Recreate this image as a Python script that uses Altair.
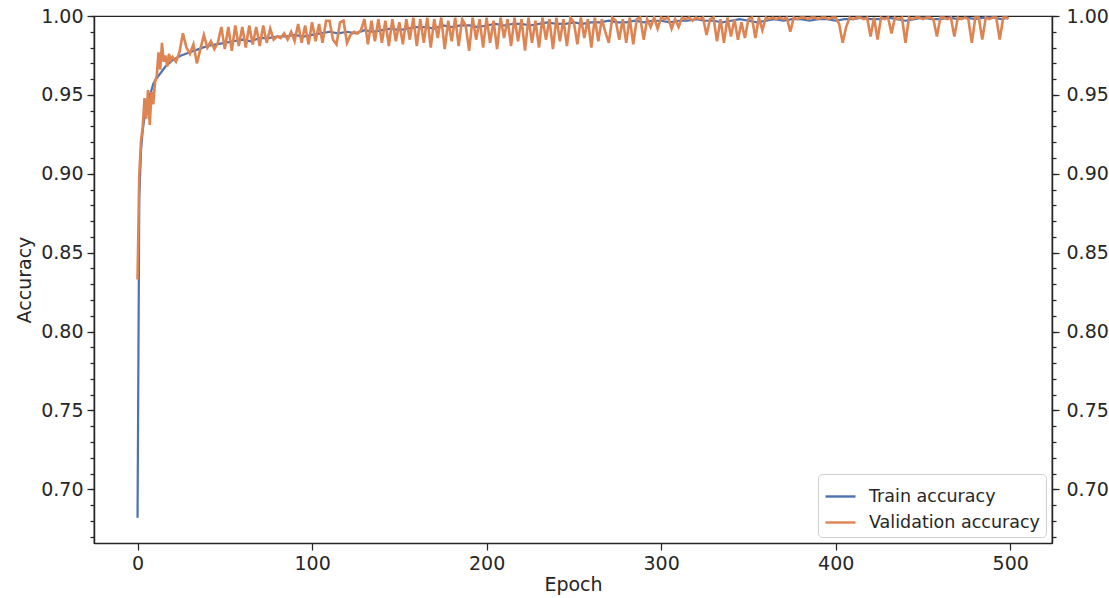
import altair as alt
import pandas as pd

# ---------------- data ----------------
series_names = ["Train accuracy", "Validation accuracy"]
series_colors = ["#4c72b0", "#dd8452"]

train_epochs = [0, 1, 2, 3, 4, 5, 6, 7, 8, 9, 10, 12, 14, 16, 18, 20,
                25, 30, 35, 40, 45, 50, 55, 60, 65, 70, 75, 80, 85, 90, 95, 100,
                105, 110, 115, 120, 125, 130, 135, 140, 145, 150, 155, 160, 165, 170, 175, 180,
                185, 190, 195, 200, 205, 210, 215, 220, 225, 230, 235, 240, 245, 250, 255, 260,
                265, 270, 275, 280, 285, 290, 295, 300, 305, 310, 315, 320, 325, 330, 335, 340,
                345, 350, 355, 360, 365, 370, 375, 380, 385, 390, 395, 400, 405, 410, 415, 420,
                425, 430, 435, 440, 445, 450, 455, 460, 465, 470, 475, 480, 485, 490, 495, 499]
train_acc = [0.682, 0.885, 0.915, 0.928, 0.936, 0.942, 0.946, 0.950, 0.953, 0.957, 0.959, 0.962, 0.965, 0.968, 0.970, 0.972,
             0.975, 0.977, 0.979, 0.981, 0.982, 0.983, 0.984, 0.985, 0.984, 0.986, 0.986, 0.987, 0.987, 0.988, 0.987, 0.988,
             0.989, 0.990, 0.989, 0.990, 0.989, 0.991, 0.990, 0.991, 0.992, 0.991, 0.992, 0.993, 0.993, 0.992, 0.994, 0.993,
             0.994, 0.994, 0.993, 0.994, 0.995, 0.994, 0.995, 0.995, 0.994, 0.995, 0.996, 0.995, 0.995, 0.996, 0.995, 0.996,
             0.996, 0.997, 0.996, 0.996, 0.997, 0.996, 0.997, 0.997, 0.996, 0.997, 0.997, 0.998, 0.997, 0.997, 0.996, 0.997,
             0.998, 0.997, 0.996, 0.997, 0.998, 0.997, 0.998, 0.998, 0.997, 0.998, 0.998, 0.997, 0.998, 0.998, 0.999, 0.998,
             0.998, 0.999, 0.998, 0.997, 0.998, 0.999, 0.998, 0.998, 0.999, 0.998, 0.999, 0.998, 0.999, 0.999, 0.998, 0.999]

val_epochs = list(range(0, 21)) + list(range(22, 499, 2)) + [499]
val_acc = [
    # epochs 0..20
    0.833, 0.900, 0.921, 0.930, 0.948, 0.935, 0.953, 0.931, 0.952, 0.944, 0.958,
    0.962, 0.977, 0.966, 0.983, 0.971, 0.975, 0.968, 0.976, 0.972, 0.974,
    # epochs 22..498 step 2
    0.971, 0.977, 0.989, 0.980, 0.976, 0.982, 0.970, 0.979, 0.988, 0.980,
    0.984, 0.979, 0.983, 0.993, 0.979, 0.993, 0.978, 0.994, 0.981, 0.993,
    0.980, 0.994, 0.982, 0.993, 0.981, 0.994, 0.983, 0.992, 0.985, 0.987,
    0.986, 0.989, 0.985, 0.990, 0.984, 0.995, 0.983, 0.994, 0.982, 0.996,
    0.984, 0.995, 0.983, 0.997, 0.997, 0.985, 0.982, 0.996, 0.997, 0.983,
    0.988, 0.990, 0.989, 0.991, 0.998, 0.982, 0.997, 0.984, 0.998, 0.983,
    0.997, 0.981, 0.998, 0.984, 0.996, 0.982, 0.998, 0.985, 0.999, 0.981,
    0.998, 0.983, 0.999, 0.980, 0.998, 0.986, 0.999, 0.979, 0.997, 0.984,
    0.999, 0.981, 0.998, 0.994, 0.978, 0.999, 0.985, 0.998, 0.980, 0.999,
    0.983, 0.997, 0.979, 0.999, 0.986, 0.998, 0.981, 0.999, 0.984, 0.998,
    0.978, 0.999, 0.983, 0.997, 0.980, 0.999, 0.985, 0.998, 0.979, 0.999,
    0.984, 0.998, 0.981, 0.999, 0.996, 0.982, 0.999, 0.986, 0.998, 0.980,
    0.999, 0.984, 0.998, 0.990, 0.983, 0.999, 0.997, 0.985, 0.998, 0.983,
    0.999, 0.982, 0.998, 0.999, 0.985, 0.998, 0.993, 0.999, 0.992, 0.999,
    0.998, 0.999, 0.992, 0.998, 0.993, 0.999, 0.998, 0.999, 0.997, 0.999,
    0.998, 0.999, 0.988, 0.998, 0.999, 0.984, 0.998, 0.983, 0.999, 0.987,
    0.998, 0.985, 0.996, 0.986, 0.998, 0.999, 0.986, 0.999, 0.991, 0.999,
    0.998, 0.999, 0.998, 0.999, 0.998, 0.999, 0.990, 0.999, 0.998, 0.999,
    0.999, 0.998, 0.999, 0.999, 0.998, 0.999, 0.999, 0.998, 0.999, 0.999,
    0.995, 0.983, 0.993, 0.999, 0.998, 0.999, 0.999, 0.998, 0.999, 0.987,
    0.999, 0.985, 0.999, 0.998, 0.999, 0.989, 0.999, 0.998, 0.999, 0.983,
    0.999, 0.998, 0.999, 0.999, 0.998, 0.999, 0.999, 0.998, 0.987, 0.999,
    0.999, 0.998, 0.999, 0.987, 0.999, 0.998, 0.999, 0.998, 0.983, 0.999,
    0.999, 0.985, 0.999, 0.998, 0.999, 0.999, 0.985, 0.999, 0.999,
    # epoch 499
    0.998,
]

x_ticks = [0, 100, 200, 300, 400, 500]
y_major = [0.70, 0.75, 0.80, 0.85, 0.90, 0.95, 1.00]
y_minor = [0.67, 0.68, 0.69, 0.70, 0.71, 0.72, 0.73, 0.74, 0.75, 0.76, 0.77, 0.78,
           0.79, 0.80, 0.81, 0.82, 0.83, 0.84, 0.85, 0.86, 0.87, 0.88, 0.89, 0.90,
           0.91, 0.92, 0.93, 0.94, 0.95, 0.96, 0.97, 0.98, 0.99, 1.00]

train_df = pd.DataFrame({"Epoch": train_epochs, "Accuracy": train_acc, "Series": series_names[0]})
val_df = pd.DataFrame({"Epoch": val_epochs, "Accuracy": val_acc, "Series": series_names[1]})

# ---------------- styling ----------------
FONT = "DejaVu Sans"
INK = "#262626"
FS = 19

x_scale = alt.Scale(domain=[-24.95, 523.95], nice=False, zero=False)
y_scale = alt.Scale(domain=[0.666, 1.0], nice=False, zero=False)

color = alt.Color(
    "Series:N",
    scale=alt.Scale(domain=series_names, range=series_colors),
    legend=alt.Legend(
        title=None, orient="bottom-right", offset=6,
        symbolType="stroke", symbolSize=900, symbolStrokeWidth=2.4,
        labelFontSize=17.5, labelFont=FONT, labelColor=INK, labelOffset=12, labelLimit=400,
        fillColor="white", strokeColor="#d0d0d0", padding=6, cornerRadius=4,
        rowPadding=1,
    ),
)

x_axis = alt.Axis(
    values=x_ticks, format="d", title="Epoch", grid=False,
    tickSize=7, tickWidth=1.25, tickColor=INK, domainColor=INK, domainWidth=1.25,
    labelFont=FONT, labelFontSize=FS, labelColor=INK, labelPadding=4,
    titleFont=FONT, titleFontSize=FS, titleColor=INK, titleFontWeight="normal", titlePadding=2,
)
x_enc = alt.X("Epoch:Q", scale=x_scale, axis=x_axis)


def y_axis(orient, values, tick, labels, pad, title=None):
    kw = dict(
        orient=orient, values=values, grid=False, tickSize=tick, tickWidth=1.25,
        tickColor=INK, domainColor=INK, domainWidth=1.25, labels=labels,
        labelFont=FONT, labelFontSize=FS, labelColor=INK, labelPadding=pad, format=".2f",
        titleFont=FONT, titleFontSize=FS, titleColor=INK, titleFontWeight="normal", titlePadding=6,
    )
    return alt.Axis(title=title, **kw)


train = alt.Chart(train_df).mark_line(strokeWidth=2.2, clip=True).encode(
    x=x_enc,
    y=alt.Y("Accuracy:Q", scale=y_scale, axis=y_axis("left", y_major, 7, True, 4, "Accuracy")),
    color=color,
)

val = alt.Chart(val_df).mark_line(strokeWidth=2.6, clip=True).encode(
    x=x_enc,
    y=alt.Y("Accuracy:Q", scale=y_scale, axis=y_axis("right", y_major, 7, True, 7, None)),
    color=color,
)

minor_left = alt.Chart(train_df).mark_line(strokeOpacity=0).encode(
    x=x_enc,
    y=alt.Y("Accuracy:Q", scale=y_scale, axis=y_axis("left", y_minor, 4, False, 4, None)),
)

minor_right = alt.Chart(train_df).mark_line(strokeOpacity=0).encode(
    x=x_enc,
    y=alt.Y("Accuracy:Q", scale=y_scale, axis=y_axis("right", y_minor, 4, False, 7, None)),
)

chart = (
    alt.layer(minor_left, minor_right, train, val)
    .resolve_axis(y="independent")
    .properties(
        width=958, height=527,
        autosize=alt.AutoSizeParams(type="none"),
        padding={"left": 94, "top": 16, "right": 57, "bottom": 55},
        background="white",
    )
    .configure_view(stroke=INK, strokeWidth=1.25)
)

chart.save("out.html", embed_options={"renderer": "svg", "actions": False})
